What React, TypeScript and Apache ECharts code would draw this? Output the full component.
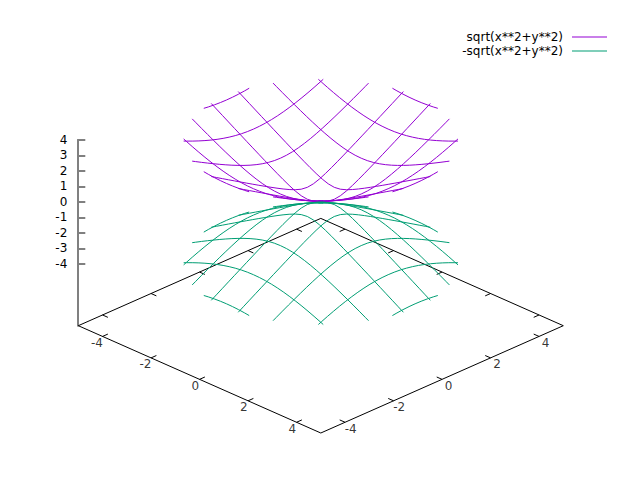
import React, { useEffect, useRef } from "react";
import * as echarts from "echarts";

const surfaceNames = ["sqrt(x**2+y**2)", "-sqrt(x**2+y**2)"];
const surfaceColors = ["#9400d3", "#009e73"];

// Isoline positions (the ±5 isolines fall wholly outside the z range)
const isoValues = [0.556, 1.667, 2.778, 3.889];
// Position along an isoline, and the height read there (one half, each line is mirrored)
const isoParams = [
  [0, 0.25, 0.5, 0.75, 1, 1.25, 1.5, 1.75, 2, 2.25, 2.5, 2.75, 3, 3.25, 3.5, 3.75, 3.961],
  [0, 0.25, 0.5, 0.75, 1, 1.25, 1.5, 1.75, 2, 2.25, 2.5, 2.75, 3, 3.25, 3.5, 3.636],
  [0, 0.25, 0.5, 0.75, 1, 1.25, 1.5, 1.75, 2, 2.25, 2.5, 2.75, 2.878],
  [0, 0.25, 0.5, 0.75, 0.936],
];
const isoHeights = [
  [0.556, 0.609, 0.747, 0.933, 1.144, 1.368, 1.6, 1.836, 2.076, 2.318, 2.561, 2.806, 3.051, 3.297, 3.544, 3.791, 4],
  [1.667, 1.685, 1.74, 1.828, 1.944, 2.083, 2.242, 2.417, 2.603, 2.8, 3.005, 3.216, 3.432, 3.652, 3.877, 4],
  [2.778, 2.789, 2.822, 2.877, 2.952, 3.046, 3.157, 3.283, 3.423, 3.575, 3.737, 3.909, 4],
  [3.889, 3.897, 3.921, 3.96, 4],
];
const zTicks = [-4, -3, -2, -1, 0, 1, 2, 3, 4];
const baseTicks = [-4, -2, 0, 2, 4];
const baseEdge = 5;
const zBase = -8;
const zTop = 4;
const TICK_LEN = 0.22;

// View: the base plane is rotated 45deg, x+y runs along the screen, x-y tilts up
const TILT = 10.73 / 15.475;
const project = (x: number, y: number, z: number): number[] => [x + y, z - TILT * (x - y)];
const GAP = [NaN, NaN];

function surfaceData(sign: number): number[][] {
  const out: number[][] = [];
  isoValues.forEach((v, i) => {
    const ts = isoParams[i];
    const zs = isoHeights[i];
    const curve: number[][] = [];
    for (let k = ts.length - 1; k > 0; k--) curve.push([-ts[k], sign * zs[k]]);
    for (let k = 0; k < ts.length; k++) curve.push([ts[k], sign * zs[k]]);
    [v, -v].forEach((c) => {
      curve.forEach(([t, z]) => out.push(project(c, t, z)));
      out.push(GAP);
      curve.forEach(([t, z]) => out.push(project(t, c, z)));
      out.push(GAP);
    });
  });
  return out;
}

function frameData(): number[][] {
  const e = baseEdge;
  const out: number[][] = [
    project(-e, -e, zBase),
    project(e, -e, zBase),
    project(e, e, zBase),
    project(-e, e, zBase),
    project(-e, -e, zBase),
    GAP,
  ];
  baseTicks.forEach((t) => {
    out.push(project(t, -e, zBase), project(t, -e + TICK_LEN, zBase), GAP);
    out.push(project(t, e, zBase), project(t, e - TICK_LEN, zBase), GAP);
    out.push(project(-e, t, zBase), project(-e + TICK_LEN, t, zBase), GAP);
    out.push(project(e, t, zBase), project(e - TICK_LEN, t, zBase), GAP);
  });
  return out;
}

const FONT = "DejaVu Sans";

function labelData() {
  const out: any[] = [];
  baseTicks.forEach((t) => {
    out.push({
      value: project(t, -baseEdge, zBase),
      name: String(t),
      label: { offset: [t < 0 ? -5.6 : -4.3, 6.3] },
    });
    out.push({
      value: project(baseEdge, t, zBase),
      name: String(t),
      label: { offset: [t < 0 ? 5.6 : 6.6, 6.3] },
    });
  });
  return out;
}

export default function App() {
  const ref = useRef<HTMLDivElement>(null);
  useEffect(() => {
    document.body.style.margin = "0";
    const chart = echarts.init(ref.current!, undefined, { renderer: "svg" });
    chart.setOption({
      animation: false,
      backgroundColor: "#ffffff",
      textStyle: { fontFamily: FONT },
      grid: { left: 78.3, top: 140, width: 485, height: 185.7 },
      legend: {
        orient: "vertical",
        right: 27,
        top: 26,
        align: "right",
        itemWidth: 35,
        itemHeight: 14,
        itemGap: 2,
        data: surfaceNames,
        itemStyle: { opacity: 0 },
        lineStyle: { width: 2, opacity: 0.5 },
        textStyle: { fontFamily: FONT, fontSize: 12, color: "#000", padding: [0, 4, 0, 0] },
      },
      xAxis: { type: "value", min: -2 * baseEdge, max: 2 * baseEdge, show: false },
      yAxis: {
        type: "value",
        min: zBase,
        max: zTop,
        interval: 1,
        offset: 1,
        splitLine: { show: false },
        axisLine: { show: true, onZero: false, lineStyle: { color: "#808080", width: 2 } },
        axisTick: {
          show: true,
          inside: true,
          length: 8,
          customValues: zTicks,
          lineStyle: { color: "#808080", width: 2 },
        },
        axisLabel: {
          show: true,
          margin: 10,
          customValues: zTicks,
          color: "#000",
          fontFamily: FONT,
          fontSize: 12,
        },
      },
      series: [
        {
          name: "frame",
          type: "line",
          data: frameData(),
          symbol: "none",
          silent: true,
          clip: false,
          connectNulls: false,
          lineStyle: { color: "#000", width: 1 },
        },
        {
          name: "labels",
          type: "scatter",
          data: labelData(),
          symbolSize: 0,
          silent: true,
          clip: false,
          label: {
            show: true,
            position: "inside",
            formatter: (p: any) => p.name,
            color: "#000",
            fontFamily: FONT,
            fontSize: 12,
          },
        },
        ...surfaceNames.map((name, i) => ({
          name,
          type: "line",
          data: surfaceData(i === 0 ? 1 : -1),
          symbol: "none",
          silent: true,
          clip: false,
          connectNulls: false,
          color: surfaceColors[i],
          lineStyle: { color: surfaceColors[i], width: 1 },
        })),
      ],
    });
    return () => chart.dispose();
  }, []);
  return <div ref={ref} style={{ position: "absolute", left: 0, top: 0, width: 640, height: 480 }} />;
}
